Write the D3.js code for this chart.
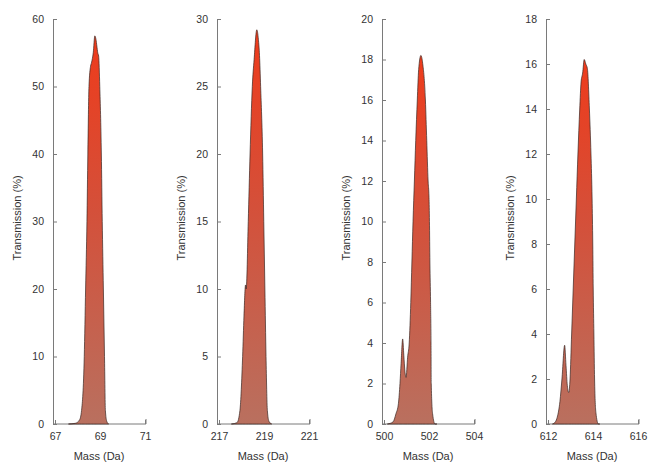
<!DOCTYPE html>
<html>
<head>
<meta charset="utf-8">
<script src="https://cdn.jsdelivr.net/npm/d3@7"></script>
<style>
	body { margin: 0; background: #fff; }
	svg { display: block; font-family: "Liberation Sans", Arial, sans-serif; }
</style>
</head>
<body>
<div id="chart"></div>
<script>
// mass axis domains and y-axis ticks per panel
var xDomains = [[67, 71], [217, 221], [500, 504], [612, 616]]
var xTicks = [[67, 69, 71], [217, 219, 221], [500, 502, 504], [612, 614, 616]]
var yMax = [60, 30, 20, 18]
var yTicks = [
	[0, 10, 20, 30, 40, 50, 60],
	[0, 5, 10, 15, 20, 25, 30],
	[0, 2, 4, 6, 8, 10, 12, 14, 16, 18, 20],
	[0, 2, 4, 6, 8, 10, 12, 14, 16, 18]
]

// transmission curves: [mass, transmission %]
var peak69 = [
	[67.6, 0], [67.9, 0.1], [68.09, 0.6], [68.18, 2], [68.3, 10], [68.36, 20], [68.42, 30],
	[68.46, 40], [68.51, 50], [68.58, 53], [68.62, 53.5], [68.7, 55], [68.77, 57.5],
	[68.82, 57], [68.86, 56], [68.9, 55], [68.94, 54.5], [68.99, 50], [69.06, 40],
	[69.1, 30], [69.15, 20], [69.2, 10], [69.24, 2], [69.3, 0.4], [69.38, 0]
]
var peak219 = [
	[217.55, 0], [217.8, 0.1], [217.93, 1], [218.05, 5], [218.11, 8], [218.18, 10.3],
	[218.21, 10], [218.3, 15], [218.38, 20], [218.48, 25], [218.56, 27], [218.68, 29.2],
	[218.75, 28.5], [218.8, 27.3], [218.85, 25], [218.94, 20], [218.99, 15], [219.04, 10],
	[219.09, 5], [219.15, 1], [219.22, 0.2], [219.34, 0]
]
var peak502 = [
	[500.15, 0], [500.4, 0.1], [500.53, 0.5], [500.64, 1], [500.71, 2], [500.76, 3],
	[500.83, 4.2], [500.88, 3.4], [500.93, 2.6], [500.98, 2.3], [501.05, 3.3], [501.12, 4],
	[501.19, 6], [501.24, 8], [501.29, 10], [501.35, 12], [501.41, 14], [501.48, 16],
	[501.54, 17.5], [501.64, 18.2], [501.72, 17.8], [501.84, 16], [501.9, 14], [501.96, 12],
	[502.0, 11.2], [502.02, 10], [502.04, 8], [502.07, 6], [502.09, 4], [502.1, 2],
	[502.16, 0.5], [502.27, 0], [502.35, 0]
]
var peak614 = [
	[612.2, 0], [612.33, 0.1], [612.41, 0.3], [612.53, 1], [612.62, 2], [612.74, 3.5],
	[612.8, 2.6], [612.86, 1.7], [612.92, 1.4], [612.98, 2], [613.05, 4], [613.12, 6],
	[613.19, 8], [613.26, 10], [613.33, 12], [613.41, 14], [613.47, 15.2], [613.54, 15.6],
	[613.61, 16.2], [613.68, 16], [613.75, 15.8], [613.84, 14], [613.91, 12], [613.96, 10],
	[613.99, 8], [614.01, 6], [614.04, 4], [614.07, 2], [614.13, 0.5], [614.24, 0], [614.3, 0]
]
var peaks = [peak69, peak219, peak502, peak614]

var width = 651, height = 463
var axisLeft = [53, 217, 382, 546] // x of each y-axis
var plotTop = 19, plotBottom = 424
var plotW = 93

var svg = d3.select('#chart').append('svg')
	.attr('width', width)
	.attr('height', height)

var grad = svg.append('defs').append('linearGradient')
	.attr('id', 'fillGrad')
	.attr('x1', 0).attr('y1', 0).attr('x2', 0).attr('y2', 1)
grad.append('stop').attr('offset', '0%').attr('stop-color', '#ee3b1b')
grad.append('stop').attr('offset', '45%').attr('stop-color', '#d4503a')
grad.append('stop').attr('offset', '100%').attr('stop-color', '#b9705f')

peaks.forEach(function (data, i) {
	var x0 = axisLeft[i]
	var x = d3.scaleLinear().domain(xDomains[i]).range([x0 + 2, x0 + 92])
	var y = d3.scaleLinear().domain([0, yMax[i]]).range([plotBottom, plotTop])

	var g = svg.append('g')

	// y axis, ticks point inward
	var ya = g.append('g')
		.attr('transform', `translate(${x0},0)`)
		.call(d3.axisLeft(y).tickValues(yTicks[i]).tickFormat(d3.format('d'))
			.tickSize(-4).tickSizeOuter(0).tickPadding(9))
	// x axis
	var xa = g.append('g')
		.attr('transform', `translate(0,${plotBottom})`)
		.call(d3.axisBottom(x).tickValues(xTicks[i]).tickFormat(d3.format('d'))
			.tickSize(-4).tickSizeOuter(0).tickPadding(9))
	xa.select('.domain').remove()
	xa.append('line')
		.attr('x1', x0).attr('x2', x0 + plotW)
		.attr('stroke', '#7a7a7a')
	xa.append('line')
		.attr('x1', x0 + plotW).attr('x2', x0 + plotW)
		.attr('y1', 0).attr('y2', -5)
		.attr('stroke', '#7a7a7a')

	;[ya, xa].forEach(function (a) {
		a.selectAll('.domain, line').attr('stroke', '#7a7a7a')
		a.selectAll('text')
			.attr('fill', '#333')
			.style('font-size', '10.5px')
	})

	var area = d3.area()
		.x(d => x(d[0]))
		.y0(y(0))
		.y1(d => y(d[1]))
		.curve(d3.curveMonotoneX)

	g.append('path')
		.datum(data)
		.attr('d', area)
		.attr('fill', 'url(#fillGrad)')
		.attr('stroke', '#3b2622')
		.attr('stroke-width', 0.7)

	g.append('text')
		.attr('transform', `translate(${x0 - 32},218) rotate(-90)`)
		.attr('text-anchor', 'middle')
		.attr('fill', '#333')
		.style('font-size', '11px')
		.text('Transmission (%)')

	g.append('text')
		.attr('x', x0 + 46)
		.attr('y', 460)
		.attr('text-anchor', 'middle')
		.attr('fill', '#333')
		.style('font-size', '11px')
		.text('Mass (Da)')
})
</script>
</body>
</html>
